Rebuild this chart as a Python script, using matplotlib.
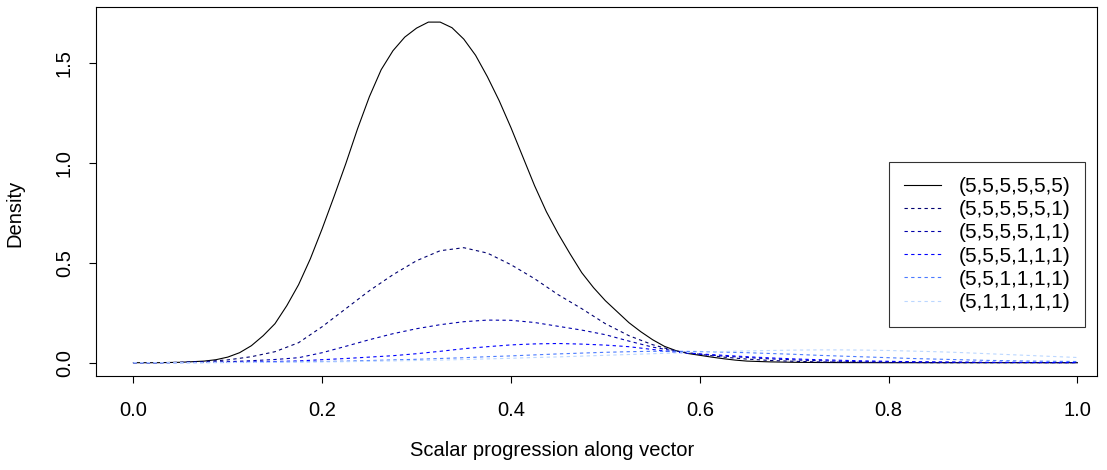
import matplotlib
matplotlib.use("Agg")
import matplotlib.pyplot as plt

# x grid for the dashed series
x = [0.0, 0.025, 0.05, 0.075, 0.1, 0.125, 0.15, 0.175, 0.2, 0.225,
     0.25, 0.275, 0.3, 0.325, 0.35, 0.375, 0.4, 0.425, 0.45, 0.475,
     0.5, 0.525, 0.55, 0.575, 0.6, 0.625, 0.65, 0.675, 0.7, 0.725,
     0.75, 0.775, 0.8, 0.825, 0.85, 0.875, 0.9, 0.925, 0.95, 0.975, 1.0]

# finer x grid for the sharp solid series
x_black = [0.0, 0.025, 0.05, 0.075, 0.0875, 0.1, 0.1125, 0.125, 0.1375, 0.15,
           0.1625, 0.175, 0.1875, 0.2, 0.2125, 0.225, 0.2375, 0.25, 0.2625, 0.275,
           0.2875, 0.3, 0.3125, 0.325, 0.3375, 0.35, 0.3625, 0.375, 0.3875, 0.4,
           0.4125, 0.425, 0.4375, 0.45, 0.4625, 0.475, 0.4875, 0.5, 0.5125, 0.525,
           0.5375, 0.55, 0.5625, 0.575, 0.5875, 0.6, 0.6125, 0.625, 0.6375, 0.65,
           0.675, 0.7, 0.725, 0.75, 0.8, 1.0]
s_555555 = [0, 0, .002, .008, .015, .028, .05, .085, .135, .195,
            .285, .39, .52, .67, .83, .995, 1.17, 1.33, 1.465, 1.56,
            1.628, 1.673, 1.703, 1.703, 1.675, 1.618, 1.537, 1.43, 1.31, 1.175,
            1.03, .885, .755, .645, .545, .45, .375, .31, .255, .20,
            .155, .115, .082, .06, .046, .037, .028, .02, .013, .008,
            .004, .002, .001, .0005, 0, 0]

s_555551 = [0, 0, .002, .006, .014, .03, .055, .10, .18, .27,
            .36, .44, .51, .56, .575, .548, .49, .42, .34, .27,
            .195, .135, .09, .058, .042, .028, .018, .011, .007, .004,
            .003, .002, .001, .001, 0, 0, 0, 0, 0, 0, 0]
s_555511 = [0, 0, .001, .002, .005, .01, .016, .025, .05, .082,
            .115, .145, .17, .19, .205, .213, .212, .201, .182, .163,
            .14, .108, .078, .057, .042, .033, .026, .019, .014, .01,
            .007, .005, .004, .003, .002, .002, .001, .001, .001, 0, 0]
s_555111 = [0, 0, .001, .001, .002, .004, .006, .009, .015, .021,
            .028, .035, .045, .057, .07, .08, .089, .094, .096, .093,
            .088, .08, .066, .052, .044, .037, .03, .024, .019, .015,
            .012, .009, .007, .005, .004, .003, .002, .002, .001, .001, .001]
s_551111 = [0, 0, 0, .001, .001, .002, .003, .005, .006, .008,
            .011, .014, .017, .021, .025, .03, .034, .039, .044, .048,
            .052, .055, .057, .057, .056, .053, .05, .046, .042, .037,
            .033, .029, .025, .021, .018, .015, .012, .01, .008, .007, .006]
s_511111 = [0, 0, 0, 0, .001, .001, .002, .003, .004, .005,
            .007, .009, .011, .013, .016, .019, .022, .026, .029, .033,
            .037, .041, .045, .049, .053, .056, .059, .061, .063, .064,
            .064, .063, .061, .058, .055, .051, .046, .041, .036, .031, .026]

labels = ["(5,5,5,5,5,5)", "(5,5,5,5,5,1)", "(5,5,5,5,1,1)",
          "(5,5,5,1,1,1)", "(5,5,1,1,1,1)", "(5,1,1,1,1,1)"]
xs = [x_black, x, x, x, x, x]
series = [s_555555, s_555551, s_555511, s_555111, s_551111, s_511111]
colors = ["#000000", "#000070", "#0000AA", "#0000FF", "#4A7AFF", "#BBD7FF"]
styles = ["-", "--", "--", "--", "--", "--"]

xticks = [0.0, 0.2, 0.4, 0.6, 0.8, 1.0]
yticks = [0.0, 0.5, 1.0, 1.5]

plt.rcParams['font.family'] = ['Liberation Sans', 'DejaVu Sans']
FS = 14.5
LFS = 15

W, H = 1107, 470
fig = plt.figure(figsize=(W / 100, H / 100), dpi=100)
L, R, T, B = 96, 1097, 7.3, 376
ax = fig.add_axes([L / W, 1 - B / H, (R - L) / W, (B - T) / H])

for xx, s, c, ls, lab in zip(xs, series, colors, styles, labels):
    line, = ax.plot(xx, s, color=c, lw=0.8, linestyle=ls, label=lab)
    if ls == "--":
        line.set_dashes((3, 3))

ax.set_xlim(-0.0396, 1.0208)
ax.set_ylim(-0.0665, 1.777)
ax.set_xticks(xticks)
ax.set_xticklabels(["%.1f" % v for v in xticks])
ax.set_yticks(yticks)
ax.set_yticklabels(["%.1f" % v for v in yticks], rotation=90, va='center')
ax.tick_params(direction='out', length=5, width=0.8, labelsize=FS)
ax.tick_params(axis='x', pad=13)
ax.tick_params(axis='y', pad=11)
for sp in ax.spines.values():
    sp.set_linewidth(0.8)

fig.text(552 / W, 1 - 450 / H, "Scalar progression along vector",
         fontsize=FS, ha='center', va='center')
fig.text(15 / W, 1 - 213 / H, "Density", fontsize=FS, ha='center',
         va='center', rotation=90)

leg = ax.legend(loc='upper left', bbox_to_anchor=(889 / W, 1 - 162 / H),
                bbox_transform=fig.transFigure, frameon=True, fancybox=False,
                edgecolor='black', fontsize=LFS, handlelength=1.78,
                handletextpad=0.84, borderpad=0.72, labelspacing=0.20,
                borderaxespad=0)
leg.get_frame().set_linewidth(0.8)

fig.savefig("out.png", dpi=100)
